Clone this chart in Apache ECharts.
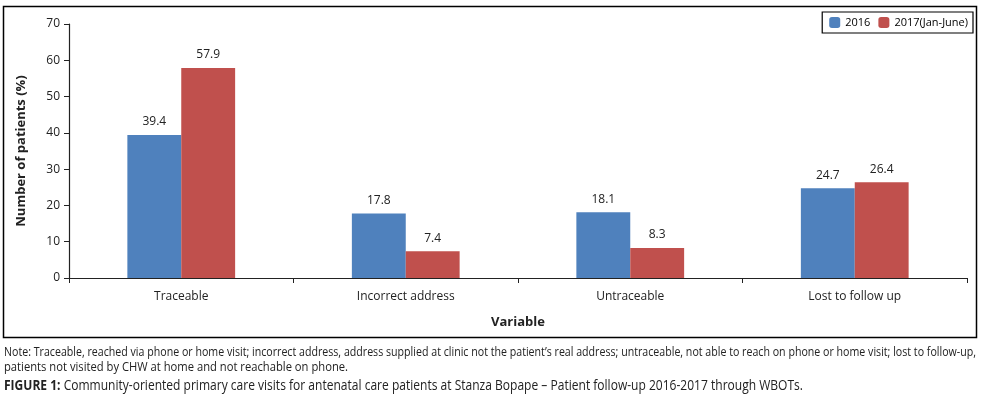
<!DOCTYPE html>
<html><head><meta charset="utf-8">
<script src="https://cdn.jsdelivr.net/npm/echarts@6/dist/echarts.min.js"></script>
<style>html,body{margin:0;padding:0;background:#fff}#c{width:982px;height:402px}</style>
</head><body><div id="c"></div>
<script>
const categories = ['Traceable', 'Incorrect address', 'Untraceable', 'Lost to follow up'];
const series2016 = [39.4, 17.8, 18.1, 24.7];
const series2017 = [57.9, 7.4, 8.3, 26.4];
const seriesNames = ['2016', '2017(Jan-June)'];
const noteLine1 = 'Note: Traceable, reached via phone or home visit; incorrect address, address supplied at clinic not the patient\u2019s real address; untraceable, not able to reach on phone or home visit; lost to follow-up,';
const noteLine2 = 'patients not visited by CHW at home and not reachable on phone.';
const captionBold = 'FIGURE 1:';
const captionText = ' Community-oriented primary care visits for antenatal care patients at Stanza Bopape \u2013 Patient follow-up 2016-2017 through WBOTs.';

const F = '"Open Sans", "DejaVu Sans", sans-serif';
const NF = '"Open Sans", sans-serif';
const ctx = document.createElement('canvas').getContext('2d');
function w(text, font) { ctx.font = font; return ctx.measureText(text).width; }
const noteFont = '12.5px ' + NF;
const capBFont = 'bold 14px ' + NF;
const capRFont = '14px ' + NF;
const s1 = 972 / w(noteLine1, noteFont);
const s2 = 344 / w(noteLine2, noteFont);
const s3 = 799 / (w(captionBold, capBFont) + w(captionText, capRFont));

const chart = echarts.init(document.getElementById('c'));
const lbl = {show: true, position: 'top', color: '#222', fontSize: 12, fontFamily: F, distance: 7};
chart.setOption({
  animation: false,
  grid: {left: 69, right: 15, top: 24, bottom: 124},
  legend: {
    right: 9, top: 12, itemWidth: 11, itemHeight: 11, itemGap: 8,
    borderColor: '#000', borderWidth: 1.2, padding: [5, 5, 5, 7],
    textStyle: {fontSize: 11, fontFamily: F, color: '#000'},
    data: seriesNames
  },
  xAxis: {
    type: 'category', data: categories,
    name: 'Variable', nameLocation: 'middle', nameGap: 38,
    nameTextStyle: {fontSize: 13, fontWeight: 'bold', fontFamily: F, color: '#222'},
    axisLine: {lineStyle: {color: '#222', width: 1.2}},
    axisTick: {show: true, length: 5, lineStyle: {color: '#222'}},
    axisLabel: {fontSize: 12, fontFamily: F, color: '#222', margin: 13}
  },
  yAxis: {
    type: 'value', min: 0, max: 70, interval: 10,
    name: 'Number of patients (%)', nameLocation: 'middle', nameGap: 41,
    nameTextStyle: {fontSize: 13, fontWeight: 'bold', fontFamily: F, color: '#222'},
    axisLine: {show: true, lineStyle: {color: '#222', width: 1.2}},
    axisTick: {show: true, length: 5, lineStyle: {color: '#222'}},
    splitLine: {show: false},
    axisLabel: {fontSize: 12, fontFamily: F, color: '#222', margin: 9}
  },
  series: [
    {name: seriesNames[0], type: 'bar', data: series2016, barGap: '0%', barCategoryGap: '52%',
     itemStyle: {color: '#4F81BD'}, label: lbl},
    {name: seriesNames[1], type: 'bar', data: series2017, barGap: '0%', barCategoryGap: '52%',
     itemStyle: {color: '#C0504D'}, label: lbl}
  ],
  graphic: [
    {type: 'rect', shape: {x: 3.5, y: 6.5, width: 973, height: 331}, style: {fill: 'none', stroke: '#000', lineWidth: 1.5}, silent: true},
    {type: 'text', x: 4, y: 346, scaleX: s1, style: {text: noteLine1, font: noteFont, fill: '#222'}},
    {type: 'text', x: 4, y: 361, scaleX: s2, style: {text: noteLine2, font: noteFont, fill: '#222'}},
    {type: 'text', x: 4, y: 379, scaleX: s3, style: {
      text: '{b|' + captionBold + '}{r|' + captionText + '}',
      rich: {b: {font: capBFont, fill: '#222'}, r: {font: capRFont, fill: '#222'}}
    }}
  ]
});
</script></body></html>
